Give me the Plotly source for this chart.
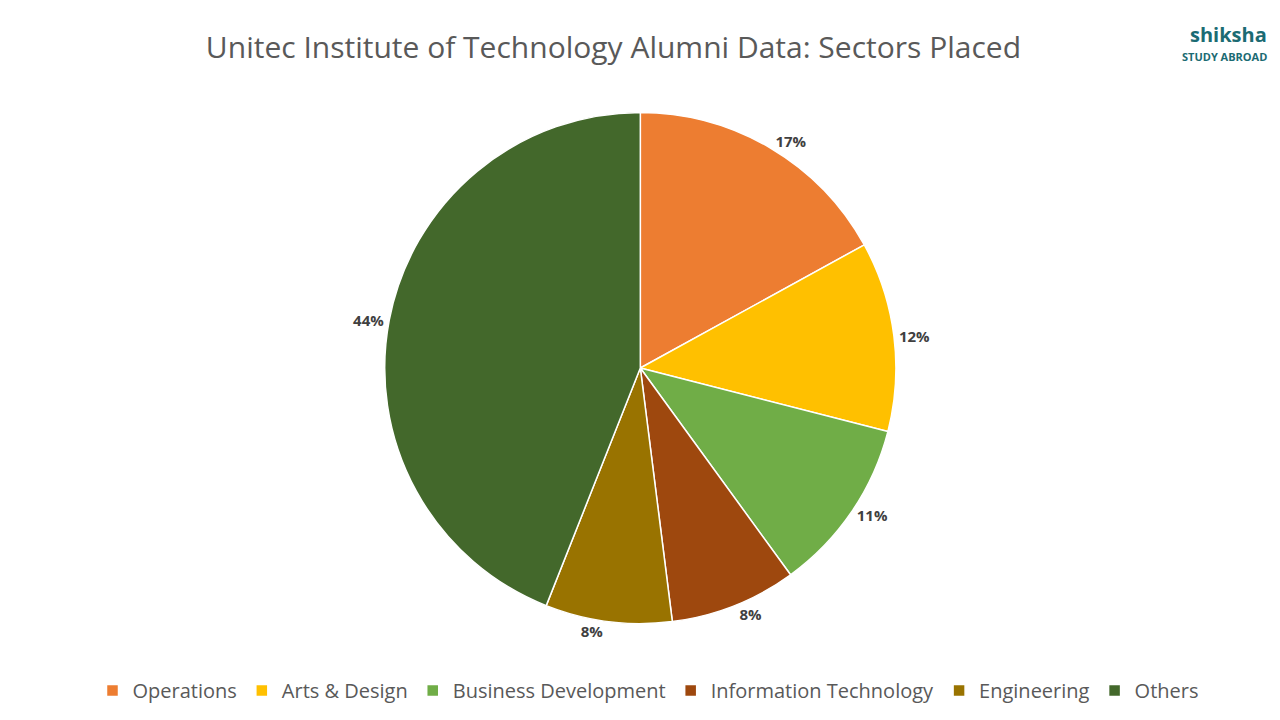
import plotly.graph_objects as go

sectors = ["Operations", "Arts & Design", "Business Development",
           "Information Technology", "Engineering", "Others"]
shares = [17, 12, 11, 8, 8, 44]
colors = ["#ED7D31", "#FFC000", "#70AD47", "#9E480E", "#997300", "#43682B"]

fig = go.Figure(go.Pie(
    labels=sectors, values=shares, sort=False, direction="clockwise", rotation=0,
    marker=dict(colors=colors, line=dict(color="white", width=1.5)),
    texttemplate="<b>%{percent:.0%}</b>", textposition="outside",
    textfont=dict(size=15, color="#404040"),
    domain=dict(x=[0.194, 0.794], y=[0.145, 0.855]),
    hole=0,
))

fig.update_layout(
    width=1280, height=720,
    paper_bgcolor="white",
    font=dict(family="Open Sans", color="#595959"),
    title=dict(text="Unitec Institute of Technology Alumni Data: Sectors Placed",
               x=0.473, xanchor="center", y=0.945, yanchor="middle",
               font=dict(size=30, color="#595959")),
    margin=dict(l=0, r=0, t=0, b=0),
    legend=dict(orientation="h", x=0.5, xanchor="center", y=0.052, yanchor="middle",
                font=dict(size=20, color="#595959"), itemwidth=30),
    annotations=[
        dict(text="<b>shiksha</b>", x=0.985, y=0.985, xref="paper", yref="paper",
             xanchor="right", yanchor="top", showarrow=False,
             font=dict(size=20, color="#1B6B73")),
        dict(text="<b>STUDY ABROAD</b>", x=0.985, y=0.946, xref="paper", yref="paper",
             xanchor="right", yanchor="top", showarrow=False,
             font=dict(size=11, color="#1B6B73")),
    ],
)

fig.write_html("out.html")
